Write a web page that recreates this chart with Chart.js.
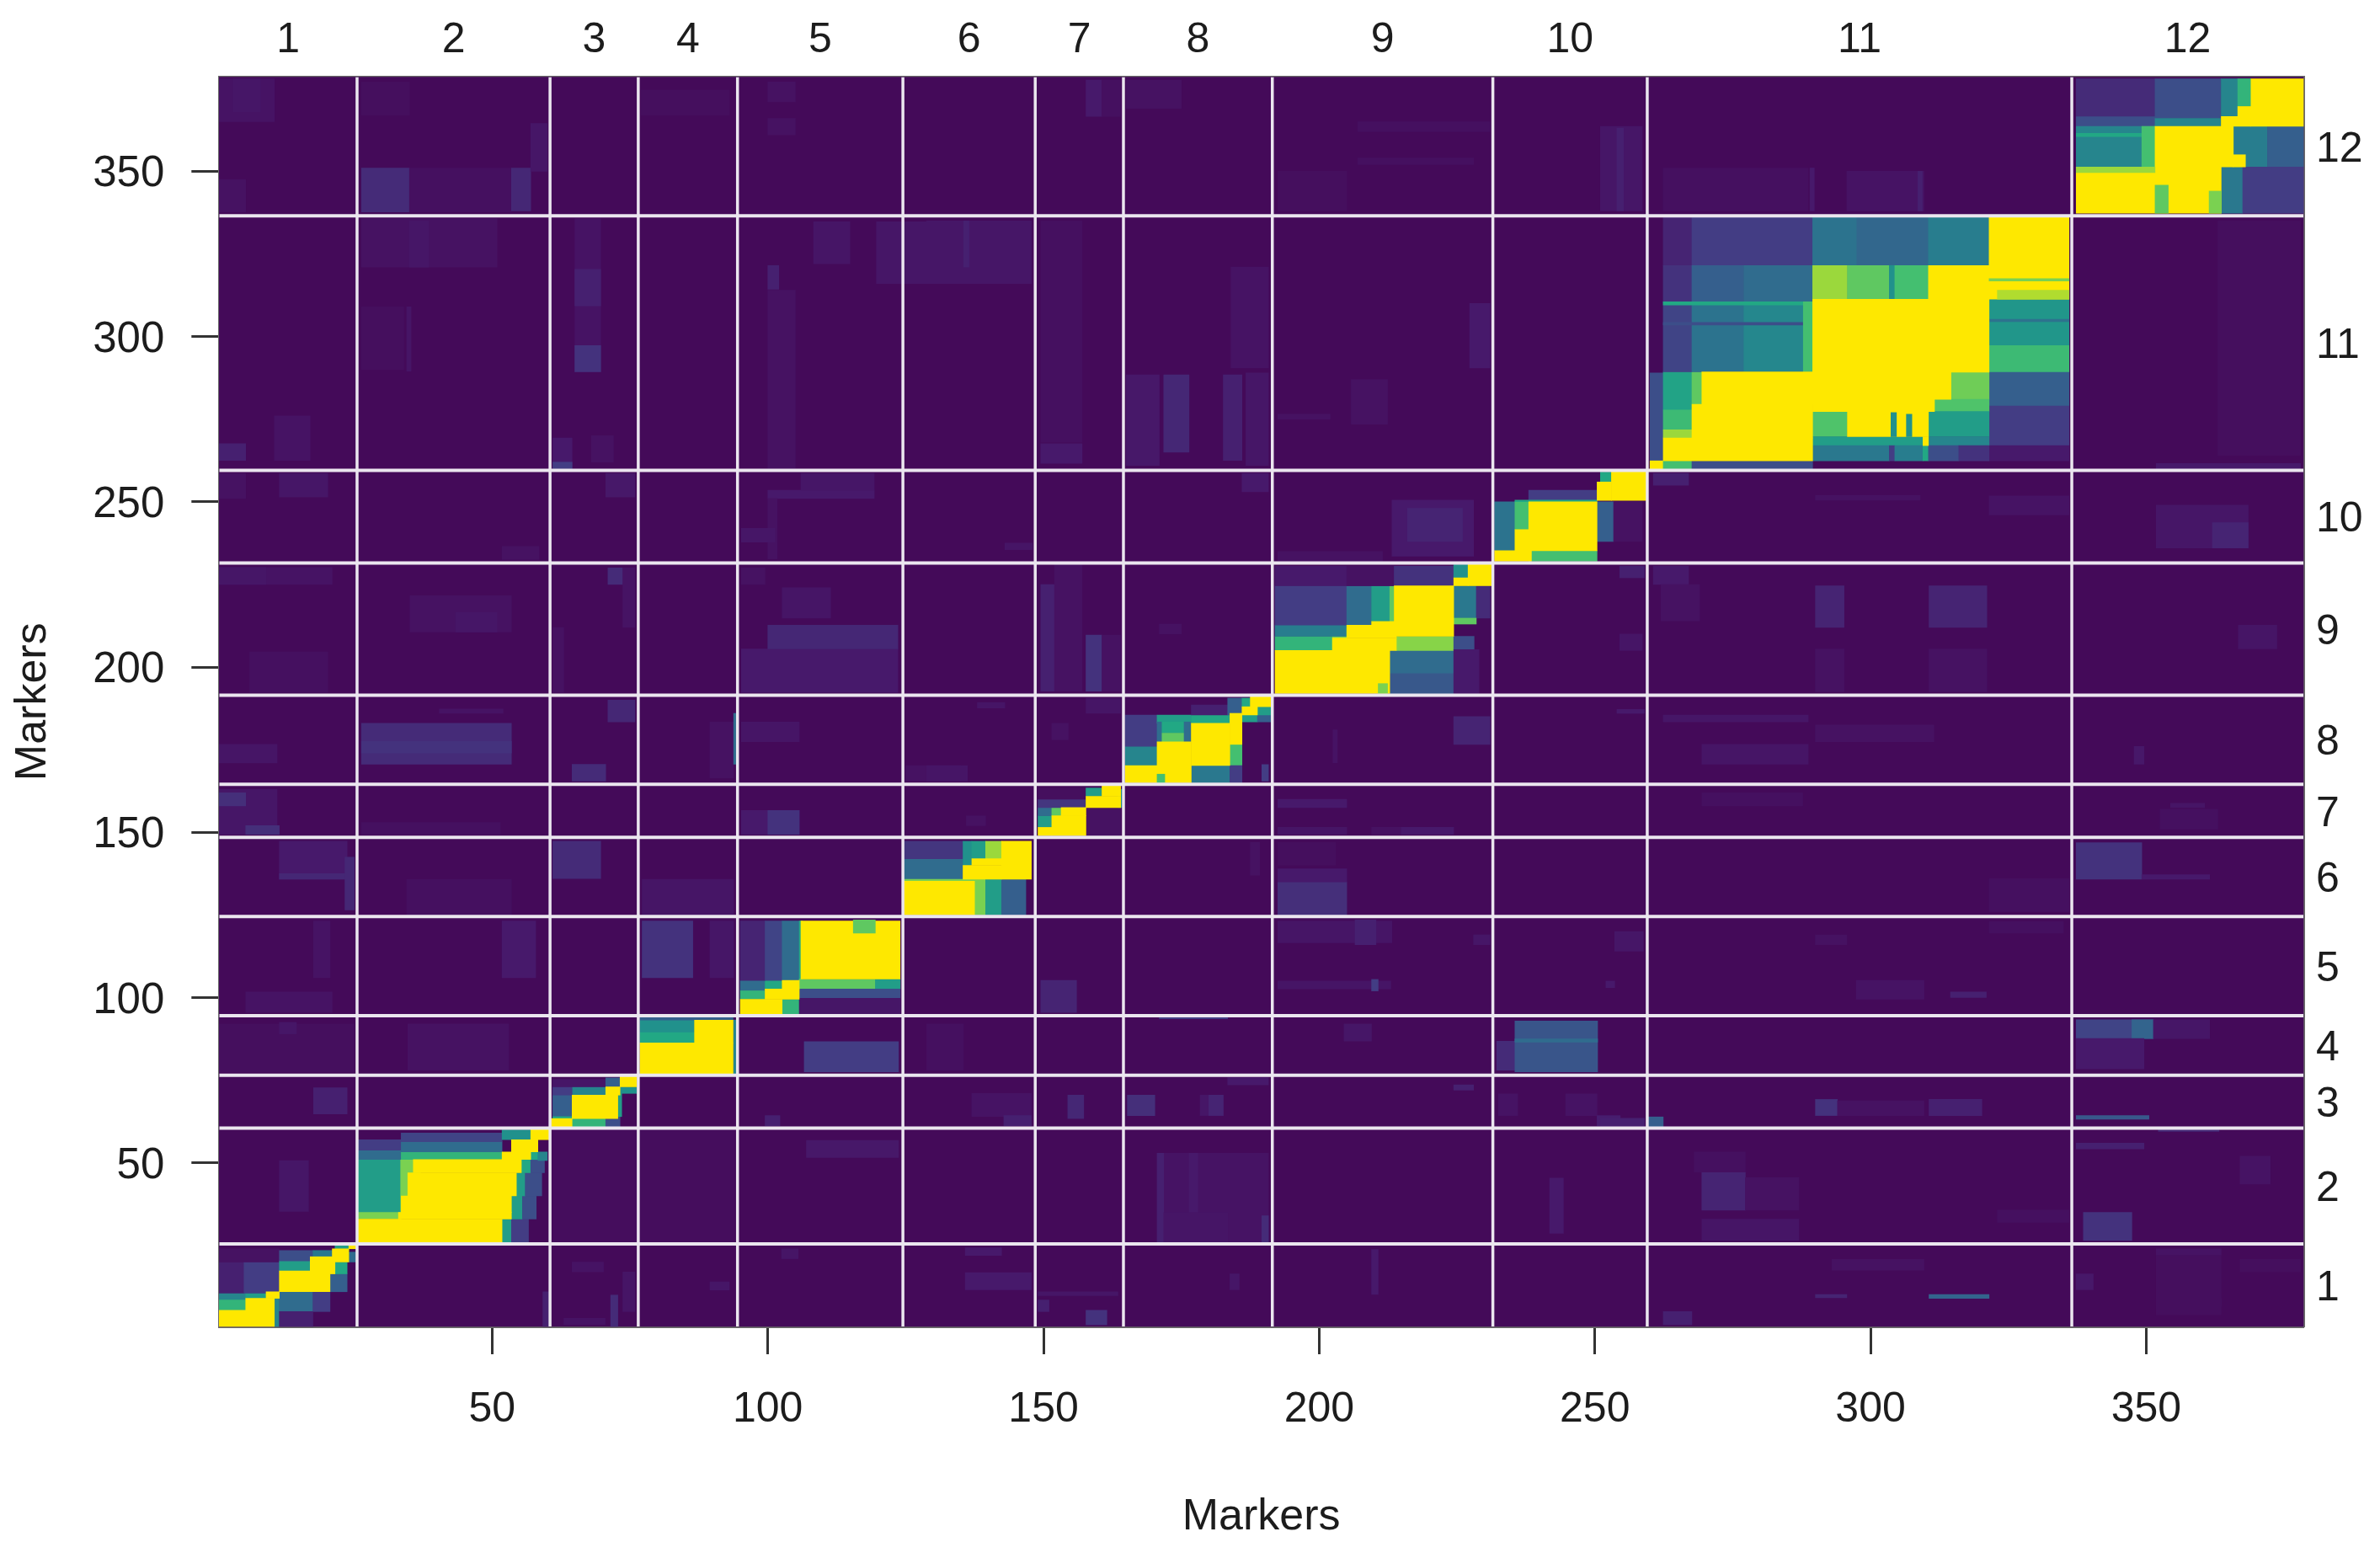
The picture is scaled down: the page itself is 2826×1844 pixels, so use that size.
<!DOCTYPE html>
<html>
<head>
<meta charset="utf-8">
<title>Markers</title>
<script src="https://cdn.jsdelivr.net/npm/chart.js@4/dist/chart.umd.js"></script>
<style>
  html, body { margin: 0; background: #fff; }
  canvas { display: block; filter: blur(0.7px); }
</style>
</head>
<body>
<canvas id="rfChart" width="2826" height="1844"></canvas>
<script>
const axisTicks = [50, 100, 150, 200, 250, 300, 350]
const groupLabels = ['1', '2', '3', '4', '5', '6', '7', '8', '9', '10', '11', '12']
// last marker of each linkage group
const groupEnds = [25, 60, 76, 94, 124, 148, 164, 191, 231, 259, 336, 378]

// every cell: [x from, x to, y from, y to, level 0-1]
const backgroundCells = [[0.5, 378.5, 0.5, 378.5, 0]]

const faintRow1 = [
  [0.5,10.5,365,378,0.06],[3,8,368,378,0.08],[26.3,35,367,377,0.03],[26.3,35,337.7,351,0.15],[35,53.5,337.7,351,0.04],
  [53.5,57,338,351,0.14],[57,60,350,364.5,0.08],[0.5,5.3,337.7,347.5,0.05],[77,93,367,374.6,0.03],[100,105,361,366,0.05],
  [100,105,371,377,0.05],[26.3,50.9,321,335.6,0.05],[35,38.5,321,335,0.08],[65,69.7,289.3,335.6,0.06],[65,69.7,309.3,320.3,0.12],
  [65,69.7,289.3,297.3,0.17],[61,64.5,260,269.3,0.1],[61,64.5,260,262,0.2],[68,72,262,270,0.05],[100,102,314.3,321.5,0.12],
  [100,105,260,314,0.05],[108.3,114.9,322,334.7,0.07],[119.7,135,316,334.7,0.08],[0.5,5.3,262.5,267.6,0.12],[10.5,17,262.5,276,0.06],
  [26.3,34,290,309,0.03],[34.5,35.3,289.5,309,0.07],[128.8,147.8,316,335,0.08],[135.5,136.5,321,335,0.12],[157.7,160.6,366.6,377.6,0.1],
  [160.6,164,366.6,377.6,0.04],[165,175,369,377.6,0.05],[149.5,157,268,335,0.04],[149.5,157,261.6,267.6,0.1],[165,171,261,288.4,0.09],
  [171.8,176.4,265,288.4,0.14],[182.6,186,262.5,288.4,0.12],[186.7,190.8,261,289,0.08],[184,190.8,290.5,321,0.06],[227.3,231,290.5,310,0.1],
  [207,231,362,365,0.04],[207,228,352,354,0.04],[192.5,205,338,350,0.03],[251,258.6,338,363.6,0.08],[254,255.2,338,363,0.12],
  [205.8,212.4,273.5,287,0.05],[192.5,202,275,276.5,0.05],[262.4,288.7,338,351,0.04],[295.7,309.7,338,350,0.06],[308.6,309.4,338,350,0.12],
  [289,289.8,338,351,0.1],[351.8,378,259.7,261.6,0.1],[363,378,264,335,0.03]
]

const faintRow2 = [
  [11.4,20.2,251.4,258.6,0.08],[0.5,5.3,251,258.6,0.05],[70.6,75.9,251.4,258.6,0.09],[100,119.3,251,253.5,0.1],[106,119.3,253.5,258.6,0.08],
  [100,101.7,232.7,251,0.05],[95.2,101.3,237.8,242,0.08],[51.8,58.5,232.5,236.5,0.05],[0.5,21,225,230.1,0.06],[0.5,9,225,230.1,0.08],
  [35.1,53.5,210.6,221.6,0.05],[43.4,50.9,210.6,216.5,0.08],[71,73.7,225,230,0.15],[73.7,75.9,212,230,0.06],[61,63,192.3,212,0.05],
  [95.2,123.6,192.3,205.5,0.1],[100,123.6,205.5,212.7,0.14],[102.6,111.4,214.8,224,0.07],[95.2,99.5,225,230,0.05],[6,20.2,192.3,204.6,0.04],
  [26.3,53.5,170.6,183,0.15],[26.3,53.5,174,177.5,0.17],[40.4,52,186,187.3,0.06],[0.5,11,171,176.6,0.07],[64.5,70.6,165.5,170.6,0.15],
  [71,75.9,183.4,190,0.14],[89.5,93.8,166.4,183.4,0.05],[93.8,94.4,170.6,186,0.35],[95.2,105.7,177.4,183.4,0.07],[125,135,165.5,170.2,0.05],
  [0.5,11,149.4,163,0.08],[0.5,5.3,158,162,0.16],[5.3,11.4,149.4,152,0.16],[95.2,105.7,149.4,156.6,0.1],[100,105.7,149.4,156.6,0.17],
  [26.3,51.5,149.4,153,0.04],[11.4,23.7,135.8,147.3,0.1],[11.4,23.7,135.8,137.5,0.14],[23.3,25,126.5,142.5,0.14],[61,69.7,136,147.3,0.15],
  [77.2,93.8,124.9,135.8,0.07],[34.5,53.5,124.9,135.8,0.04],[213.2,228,233.5,250.5,0.1],[216,226,238,248,0.13],[192.5,211.5,232,235,0.05],
  [186,190.8,253,258.6,0.1],[143,148,235.5,237.5,0.07],[255.4,258.6,228.4,230.5,0.12],[149.5,152,192.7,225,0.12],[152,157,192.7,231,0.05],
  [157.7,160.6,192.7,209.7,0.17],[160.6,164,192.7,209.7,0.05],[171,175,210,213,0.05],[224.4,231,176.6,185,0.13],[138,143,187.6,189.3,0.07],
  [128.8,136.2,165.5,170.2,0.07],[151.5,154.5,178,183,0.05],[157.7,164,186,190.6,0.07],[202.5,203.3,171,181,0.06],[254.6,258.6,186,187,0.08],
  [192.5,205,157.5,160,0.1],[192.5,205,149.4,151.5,0.07],[214.8,224.4,149.4,151.5,0.1],[209.5,214.8,149.4,151.5,0.05],[136,139.5,152,155,0.05],
  [192.5,205,124.9,135,0.16],[192.5,205,135,139,0.1],[192.5,203,140,147,0.03],[187.5,189.2,137,147,0.05]
]

const faintRow2Right = [
  [321.5,336,246,251.8,0.06],[290,309,250.5,252,0.05],[351.8,368.5,236,249,0.08],[362,368.5,236,243.7,0.13],[260.6,267,255,258.6,0.12],
  [260.6,267,225,230.5,0.1],[290,295.2,212,224.6,0.13],[310.6,321.1,212,224.6,0.13],[290,295.2,192.5,205.5,0.05],[310.6,321.1,192.5,205.5,0.05],
  [262,269,214,225,0.05],[366.7,373.7,205.5,212.7,0.07],[254.5,259,227,230.5,0.12],[254.5,258.6,205,210,0.07],[262.4,288.7,183.4,185.5,0.08],
  [269.4,288.7,170.6,176.6,0.07],[290,311.5,177.4,182.5,0.05],[347.8,349.6,170.6,176,0.09],[254,259,186,187.2,0.1],[269.4,287.7,158,162,0.04],
  [354.4,360.6,157.5,158.8,0.07],[352.5,363,151,157,0.04],[337.3,349.2,135.8,146.9,0.17],[349.2,361.5,135.8,137.2,0.1],[321.5,336,126,136,0.04]
]

const faintRow3 = [
  [51.8,57.9,106,123.2,0.1],[17.6,20.6,106,123.2,0.06],[5.3,21,95.5,101.7,0.06],[77.2,86.4,106,123.2,0.17],[89.5,93.8,106,123.2,0.08],
  [106.6,123.7,77.5,86.7,0.2],[0.5,25,77.5,92,0.03],[11.4,14.5,89,92.5,0.08],[34.7,53,78,92,0.05],[17.6,23.7,64.8,72.7,0.12],
  [99.5,102.2,61.2,64.3,0.12],[11.4,16.7,35.3,50.7,0.08],[107,123.7,51.6,56.8,0.09],[88.6,93,56.4,59.5,0.09],[61,94,26,60,0.02],
  [64.5,70.2,17,20,0.06],[73.7,75.9,5,17,0.07],[71.5,72.8,0.5,10,0.15],[63,70.5,1,3,0.06],[59.2,60.4,0.5,11,0.12],[89.5,93,11.5,14,0.08],
  [102.5,105.5,21,24,0.07],[149.5,156,95.5,105.2,0.13],[192.5,213.2,116.6,123.2,0.07],[206.5,210.3,116,123.5,0.12],[192.5,213,102.6,105,0.07],
  [209.5,210.7,102,105.5,0.2],[228,231,116,119,0.08],[171,183.4,93.6,94.2,0.2],[204.5,209.5,86.8,92,0.08],[232.2,235.5,78,86.8,0.15],
  [235.5,250.5,77.5,92.9,0.27],[235.5,250.5,86.5,87.5,0.35],[128.8,135.5,78,92,0.04],[183.4,190.8,73.6,75.8,0.1],[224.4,228,72,73.6,0.12],
  [137,147.8,64,71,0.06],[142.8,147.8,61.2,64.3,0.12],[154.4,157.3,63.4,70.5,0.14],[165.2,170.2,64.3,70.5,0.16],[178.4,182.6,64.3,70.5,0.08],
  [180,182.6,64.3,70.5,0.13],[232.5,236,64.3,70.9,0.06],[244.7,250.4,64.3,70.9,0.06],[250.4,254.6,61.2,64.3,0.11],[171,190.8,26,52.9,0.06],
  [170.6,171.8,26,52.9,0.12],[176.4,178,26,52.9,0.1],[189.6,190.8,26,34,0.15],[171.8,183.4,26,35,0.07],[241.8,244.3,28.7,45.4,0.1],
  [135.8,142.4,22,24.3,0.1],[135.8,147.8,11.6,16.8,0.1],[149,163.5,9.8,11,0.08],[149,151,5,8.5,0.12],[157.7,161.5,1,5.4,0.17],
  [183.8,185.5,11.6,16.4,0.08],[209.5,210.7,10.2,23.8,0.1],[253.6,258.8,114,120,0.08],[252,253.6,103,105,0.1],[290,295.7,116,119,0.05],
  [321.5,335,119.5,123,0.04],[297.4,309.7,99.5,105.2,0.06],[314.5,321,100,101.7,0.12],[337.3,351.3,87.6,93.3,0.22],[347.4,351.3,87.6,93.3,0.32],
  [351.3,361.5,87.6,93.3,0.08],[337.3,349.6,78.4,87.6,0.1],[290,294,64.3,69.2,0.17],[294,309.7,64.3,68.8,0.05],[310.6,320.2,64.3,69.2,0.12],
  [337.3,350.5,63.2,64.3,0.28],[259.7,262.4,60.8,63.9,0.3],[251,259,61,63.5,0.12],[352.2,363.2,59.5,60.3,0.15],[269.4,277.3,35.7,47.2,0.13],
  [277.3,287,35.7,45.5,0.05],[269.4,287,26.5,33,0.07],[268,277.3,47.2,53.3,0.04],[338.6,347.4,26.5,35,0.17],[337.3,349.6,54.2,56,0.12],
  [367,372.5,43.6,52,0.06],[323,336,32,35.7,0.04],[262.4,267.6,1,5,0.12],[310.6,321.5,9,10.2,0.32],[290,295.7,9.2,10.2,0.13],
  [293,309.7,17.5,20.8,0.05],[337.3,340.4,11.6,16.4,0.09],[351.8,363.6,6.7,9,0.1],[351.8,363.6,22,24,0.06],[351.8,363.6,4,22,0.03],[367,378,17,20.8,0.03]
]

const lg1Cells = [
  [0.5,5.3,8.5,10.6,0.45],[0.5,5.3,5.4,8.5,0.65],[5.3,9,9,10.6,0.55],[0.5,5,10.6,20,0.12],[5,11.4,10.6,20,0.2],
  [0.5,11.4,20,24,0.05],[11.4,17.5,17.3,20.3,0.55],[11.4,17.5,20.3,23.5,0.25],[17.5,21.5,21.6,23.5,0.4],[21.5,24,23.5,25.2,0.55],
  [10.5,11.4,0.5,10,0.45],[11.4,17.5,5,11,0.35],[17.5,20.6,5,11,0.2],[11.4,17.5,0.5,5,0.12],[20.6,23.7,11,16.4,0.3],
  [21.5,23.7,16.4,20,0.6],[23.7,25.5,20,23,0.35],[0.5,10.5,0.5,5.4,1],[5.3,10.5,5.4,9,1],[9,11.4,9,11,1],
  [11.4,20.6,11,17.3,1],[17,21.5,16.4,21.6,1],[21,24,20,24,1],[24,25.5,24,25.5,1]
]

const lg2Cells = [
  [25.6,33.5,35,51,0.55],[25.6,33.5,33,35,0.8],[33.4,37,35,51,0.8],[25.6,33.5,51,53.8,0.35],[25.6,33.5,53.8,57,0.2],
  [33.5,51.8,51,53.3,0.65],[33.5,51.8,53.3,56.4,0.35],[33.5,51.8,56.4,59,0.22],[51.8,57,57,60,0.5],[51.8,53.5,25.5,33,0.55],
  [53.5,56.6,25.5,33,0.2],[53.5,55.5,33,40,0.55],[55.5,58,33,40,0.25],[54.4,56,40,47,0.55],[56,59,40,47,0.25],
  [55.3,57,47,51,0.6],[57,59.5,47,51,0.25],[57,58.3,51,53.3,0.6],[58.3,60,50.7,53.3,0.45],[25.6,51.8,25.5,33,1],
  [33,53.5,33,35,1],[33.5,53.5,35,40,1],[34.7,54.4,40,47,1],[35.7,55.3,47,51,1],[51.8,57,51,53.3,1],
  [53.5,58.3,53.3,57,1],[57,60.5,57,60.5,1]
]

const lg3Cells = [
  [61,64.5,64,70.5,0.3],[64.5,70.6,70.5,73,0.45],[61,64.5,70.5,73,0.2],[61,70.6,73,75.3,0.08],[70.6,73.2,73,75.7,0.3],
  [64.5,70.6,60.8,63.4,0.65],[70.6,73.2,60.8,64,0.25],[72.8,73.5,64,71,0.55],[73.2,76.2,71,73,0.5],[61,64.5,63.4,64,0.6],
  [60.7,64.5,60.8,63.4,1],[64.5,72.8,63.4,70.5,1],[70.6,73.2,70.5,73,1],[73.2,76.2,73,76.2,1]
]

const lg4Cells = [
  [76.8,86.7,89.4,93.2,0.5],[76.8,86.7,86.3,89.4,0.6],[76.8,93.7,93.2,94.3,0.3],[93.7,94.4,77,93.2,0.45],
  [76.8,93.7,76.9,86.3,1],[86.7,93.7,86.3,93.2,1]
]

const lg5Cells = [
  [95,99.5,99.5,102.2,0.65],[95,99.5,102.2,105.2,0.35],[99.5,102.6,102.6,105.2,0.6],[95,99.5,105.2,123.2,0.13],[99.5,102.6,105.2,123.2,0.22],
  [102.6,105.7,105.2,123.2,0.35],[105.7,106.3,105.2,123.2,0.6],[102.6,105.7,95,99.5,0.65],[105.7,124,102.6,105.6,0.75],[119.5,124,102.6,105.6,0.55],
  [105.7,124,99.8,102.6,0.25],[105.7,124,95,99.8,0.08],[95,102.6,95,99.5,1],[99.5,105.7,99.5,102.6,1],[102.6,105.7,102.6,105.2,1],
  [106,124,105.6,123.2,1],[115.5,119.5,119.5,123.5,0.75]
]

const lg6Cells = [
  [124.7,135.4,135.8,142,0.35],[124.7,135.4,142,147.3,0.18],[135.4,137,140,147.3,0.5],[137,139.5,142,147.3,0.55],[139.5,142.4,142,147.3,0.85],
  [137.5,139.5,125,135.8,0.8],[139.5,142.4,125,135.8,0.55],[142.4,146.8,125,135.8,0.3],[124.7,137.5,135,135.8,0.8],[124.7,137.5,125,135.2,1],
  [135.4,142.4,135.8,140,1],[137,142.4,140,142,1],[142.4,147.8,135.8,147.3,1]
]

const lg7Cells = [
  [149,151.5,151.5,155,0.55],[149,151.5,155,157.5,0.35],[151.5,153.2,155,157.5,0.75],[149,157.7,157.5,160,0.18],[149,157.7,160,163.4,0.03],
  [157.7,160.6,160.9,163.4,0.55],[157.7,164,149,157.5,0.05],[163.5,164.2,157.5,163,0.5],[149,151.5,149,151.5,1],[151.5,157.7,149,155,1],
  [153.2,157.7,155,157.5,1],[157.7,164,157.5,160.9,1],[160.6,164,160.9,164,1]
]

const lg8Cells = [
  [164.8,170.6,170.2,176,0.45],[164.8,170.6,176,185.5,0.2],[170.6,176.8,183,185.5,0.55],[171.4,175.5,180,183.4,0.6],[171.4,175.5,177.4,180,0.75],
  [175.5,176.8,177.4,183.4,0.35],[170.6,171.4,177.4,183.4,0.35],[176.8,183.8,183,185.5,0.6],[176.8,183.4,185.5,188.5,0.12],[183.4,186,185.5,190.6,0.3],
  [186,187.5,188,190.6,0.6],[176.8,183.8,165,170.2,0.4],[183.8,186,170.2,176.6,0.7],[183.8,186,165,170.2,0.2],[186,188.8,183.4,185.5,0.55],
  [188.8,191.3,183.4,185.5,0.3],[188.8,191.3,185.5,188,0.55],[189.6,190.8,165.5,170.5,0.2],[164.8,170.6,165,170.2,1],[170.6,176.8,165,177.4,1],[170.6,172,165,167.6,0.7],
  [176.8,183.8,170.2,183,1],[183.8,186,176.6,186,1],[186,188.8,185.5,188,1],[187.5,191.3,188,191.3,1]
]

const lg9Cells = [
  [192,202.4,205,209.3,0.65],[202.4,205,205,209.3,0.8],[192,205,209.3,212.7,0.42],[205,209.5,209.3,211.7,0.65],[192,205,212.7,224.6,0.2],
  [205,209.5,211.7,224.6,0.35],[209.5,212.8,213.8,224.6,0.55],[212.8,213.6,213.8,224.6,0.75],[192,213.6,224.6,230.5,0.1],[205,213.6,224.6,230.5,0.05],
  [213.6,224.4,224.6,230.5,0.17],[212.8,224.4,192,205,0.35],[212.8,224.4,192,198,0.28],[214,224.4,205,209.3,0.82],[224.4,228.5,214.8,224.6,0.4],
  [228.5,231,214.8,224.6,0.15],[224.4,228.5,213,214.8,0.75],[224.4,228.1,205.3,209.3,0.25],[224.4,229,192,205.3,0.1],[224.4,227,227,231,0.5],
  [192,212.8,192,205,1],[202.4,214,205,208.8,1],[205,214,208.8,212.7,1],[209.5,214,212.7,213.8,1],[213.6,224.4,209.3,224.6,1],
  [227,231.2,224.6,231.2,1],[224.4,227,224.6,227,1],[210.7,212.4,192,195,0.8]
]

const lg10Cells = [
  [231.8,235.5,235.2,250,0.38],[235.5,238,241.6,250,0.7],[238,250.4,250.5,253.5,0.2],[235.5,250.4,250,250.5,0.6],[238,250.4,232,235.2,0.7],[250.4,253.4,238,250,0.3],
  [253.4,258.6,238,250,0.05],[251,253,256,259,0.6],[231.8,238.5,232,235.2,1],[235.5,238.5,235.2,241.6,1],[238,250.4,235.2,250,1],
  [250.4,253,250.4,256,1],[253,259.5,250.4,259.5,1]
]

const lg11Cells = [
  [260,262.4,262.5,289,0.25],[262.4,267.6,277.8,289.3,0.58],[267.6,269.4,279.5,289.3,0.75],[262.4,267.6,271.8,277.8,0.68],[262.4,267.6,269.3,271.8,0.85],
  [262.4,267.6,321.5,336,0.13],[267.6,289.5,321.5,336,0.2],[262.4,267.6,310.5,321.5,0.17],[267.6,277,310.5,321.5,0.3],[277,289.5,310.5,321.5,0.35],
  [262.4,267.6,289.3,310.5,0.22],[267.6,277,289.3,310.5,0.38],[277,289.5,289.3,310.5,0.46],[262.4,289.5,309.5,310.5,0.6],[262.4,289.5,303.5,304.3,0.25],
  [287.8,289.7,289.3,310.5,0.7],[260,262.4,259.8,262.4,1],[262.4,267.6,259.9,262.4,0.7],[267.6,289.5,259.9,262.4,0.25],[289.5,297.5,321.5,336,0.38],
  [297.5,310.5,321.5,336,0.33],[310.5,321.5,321.5,336,0.42],[289.5,295.8,311.3,321.5,0.85],[295.8,303.4,311.3,321.5,0.75],[303.4,304.4,311.3,321.5,0.5],
  [304.4,310.5,311.3,321.5,0.7],[321.5,336,297.3,311.3,0.52],[321.5,336,289.2,297.3,0.68],[321.5,336,304.5,305.2,0.38],[321.5,336,279,289.2,0.3],
  [321.5,336,267,279,0.2],[321.5,336,262.4,267,0.1],[314.6,321.5,281,289.2,0.78],[311.6,321.5,277.3,281,0.72],[289.5,295.8,269.7,277.3,0.72],
  [310.5,321.5,269.7,277.3,0.55],[289.5,309.5,267,269.7,0.55],[310.5,321.5,267,269.7,0.45],[289.5,303.4,262.4,267,0.4],[303.4,304.4,262.4,267,0.2],
  [304.4,309.5,262.4,267,0.42],[309.5,310.5,262.4,267,0.6],[310.5,316,262.4,267,0.25],[316,321.5,262.4,267,0.17],[262.4,289.5,262.4,269.3,1],
  [267.6,289.5,269.3,279.5,1],[269.4,289.7,279.5,289.3,1],[289.5,321.5,289.2,311.3,1],[310.5,321.5,311.3,321.5,1],[289.5,314.6,281,289.2,1],
  [289.5,311.6,277.3,281,1],[295.8,310.5,269.7,277.3,1],[303.7,304.7,269.7,277,0.5],[306.5,307.5,269.7,276.5,0.5],[309.5,310.5,267,269.7,1],
  [321.5,336,311.3,336,1],[321.5,336,316.8,317.5,0.8],[323,336,311.3,314,0.88]
]

const lg12Cells = [
  [337.3,351.6,366,378,0.15],[337.3,351.6,363.6,366.5,0.25],[351.6,363.6,366,378,0.25],[351.6,363.6,363.6,366,0.45],[363.6,366.6,366.6,378,0.45],
  [366.6,369,369.6,378,0.65],[337.3,349.2,351.3,363.6,0.45],[337.3,349.2,360.5,361.5,0.6],[349.2,351.6,351.3,363.6,0.7],[365.8,372,351.3,363.6,0.42],
  [372,378.5,351.3,363.6,0.3],[363.6,367.5,337.3,351.3,0.4],[367.5,378.5,337.3,351.3,0.2],[369,378.5,363.6,378,1],[363.6,369,363.6,366.6,1],
  [366.6,369,366.6,369.6,1],[351.6,365.8,351.3,363.6,1],[365.8,368,351.3,355,1],[337.3,363.6,337.3,351.3,1],[337.3,351.6,349.6,351.3,0.85],
  [351.6,354,337.3,345.8,0.75],[361.4,363.6,337.3,344,0.8]
]

const cellLists = [backgroundCells, faintRow1, faintRow2, faintRow2Right, faintRow3, lg1Cells, lg2Cells, lg3Cells, lg4Cells, lg5Cells, lg6Cells, lg7Cells, lg8Cells, lg9Cells, lg10Cells, lg11Cells, lg12Cells]

const colorLevels = [0, 0.1, 0.2, 0.3, 0.4, 0.5, 0.6, 0.7, 0.8, 0.9, 1]
const colorStops = ['#440a59', '#47196b', '#433d84', '#355f8d', '#2a788e', '#21918c', '#22a884', '#44bf70', '#7ad151', '#bddf26', '#fee800']

function levelColor(v) {
  let i = 0
  while (i < colorLevels.length - 2 && v > colorLevels[i + 1]) i++
  const t = (v - colorLevels[i]) / (colorLevels[i + 1] - colorLevels[i])
  const parts = [1, 3, 5].map(k => {
    const a = parseInt(colorStops[i].substr(k, 2), 16)
    const b = parseInt(colorStops[i + 1].substr(k, 2), 16)
    return Math.round(a + (b - a) * t)
  })
  return `rgb(${parts.join(',')})`
}

// small controller so each rectangle is a real chart element placed by the scales
class HeatController extends Chart.DatasetController {
  update() {
    const meta = this._cachedMeta
    this.updateElements(meta.data, 0, meta.data.length)
  }
  updateElements(elements, start, count) {
    const { xScale, yScale } = this._cachedMeta
    const cells = this.getDataset().data
    for (let i = start; i < start + count; i++) {
      const c = cells[i]
      const left = xScale.getPixelForValue(c.x0)
      const right = xScale.getPixelForValue(c.x1)
      const top = yScale.getPixelForValue(c.y1)
      const bottom = yScale.getPixelForValue(c.y0)
      Object.assign(elements[i], {
        x: (left + right) / 2,
        y: top,
        base: bottom,
        width: right - left,
        height: bottom - top,
        horizontal: false,
        inflateAmount: 0.3,
        borderSkipped: {},
        enableBorderRadius: false,
        options: { backgroundColor: levelColor(c.v), borderColor: levelColor(c.v), borderWidth: 0, borderRadius: 0 }
      })
    }
  }
}
HeatController.id = 'heat'
HeatController.defaults = { dataElementType: 'bar' }
Chart.register(HeatController)

// R centres its side labels a little lower than canvas middle baseline
const labelNudge = {
  id: 'labelNudge',
  beforeDraw(chart) {
    for (const id of ['y', 'y2']) {
      chart.scales[id].getLabelItems().forEach(item => { item.options.translation[1] += 4 })
    }
  }
}

const heatData = cellLists.flat().map(([x0, x1, y0, y1, v]) => ({ x: (x0 + x1) / 2, y: (y0 + y1) / 2, x0, x1, y0, y1, v }))

const inner = groupEnds.slice(0, -1).map(e => e + 0.5)
const separatorStyle = { type: 'scatter', showLine: true, pointRadius: 0, borderColor: '#ebe6ef', order: 0, xAxisID: 'x', yAxisID: 'y' }
const separators = [
  ...inner.map(p => ({ ...separatorStyle, borderWidth: 3.5, data: [{ x: p, y: 0.5 }, { x: p, y: 378.5 }] })),
  ...inner.map(p => ({ ...separatorStyle, borderWidth: 4, data: [{ x: 0.5, y: p }, { x: 378.5, y: p }] }))
]

const starts = [0, ...groupEnds.slice(0, -1)]
const groupMids = groupEnds.map((e, i) => (starts[i] + 1 + e) / 2)

const font = { family: '"Liberation Sans", Arial, sans-serif', size: 50 }
const textColor = '#1c1c1c'
const edge = { display: true, color: '#6a6a6a', width: 3 }

function fixed(ticks, size) {
  return {
    afterBuildTicks: scale => { scale.ticks = ticks.map(value => ({ value })) },
    afterFit: scale => {
      if (scale.isHorizontal()) scale.height = size
      else scale.width = size
    }
  }
}

new Chart(document.getElementById('rfChart'), {
  type: 'scatter',
  data: {
    datasets: [...separators, { type: 'heat', label: 'Markers', data: heatData, order: 1, xAxisID: 'x', yAxisID: 'y' }]
  },
  plugins: [labelNudge],
  options: {
    responsive: false,
    animation: false,
    events: [],
    layout: { padding: 0 },
    plugins: { legend: { display: false }, tooltip: { enabled: false } },
    scales: {
      x: {
        type: 'linear', position: 'bottom', min: 0.5, max: 378.5,
        ...fixed(axisTicks, 269),
        border: edge,
        grid: { drawOnChartArea: false, tickLength: 33, tickColor: '#333', tickWidth: 3 },
        ticks: { font, color: textColor, padding: 36, maxRotation: 0, autoSkip: false, callback: v => String(v) },
        title: { display: true, text: 'Markers', font: { ...font, size: 52 }, color: textColor, padding: { top: 0, bottom: 11 } }
      },
      y: {
        type: 'linear', position: 'left', min: 0.5, max: 378.5,
        ...fixed(axisTicks, 260.3),
        border: edge,
        grid: { drawOnChartArea: false, tickLength: 33, tickColor: '#333', tickWidth: 3 },
        ticks: { font: { ...font, size: 51 }, color: textColor, padding: 32, autoSkip: false, callback: v => String(v) },
        title: { display: true, text: 'Markers', font: { ...font, size: 52 }, color: textColor, padding: { top: 8, bottom: 0 } }
      },
      x2: {
        type: 'linear', position: 'top', min: 0.5, max: 378.5,
        ...fixed(groupMids, 91.5),
        border: edge,
        grid: { drawOnChartArea: false, drawTicks: false },
        ticks: { font, color: textColor, padding: 13, maxRotation: 0, autoSkip: false, callback: (v, i) => groupLabels[i] }
      },
      y2: {
        type: 'linear', position: 'right', min: 0.5, max: 378.5,
        ...fixed(groupMids, 91),
        border: edge,
        grid: { drawOnChartArea: false, drawTicks: false },
        ticks: { font, color: textColor, padding: 15, autoSkip: false, callback: (v, i) => groupLabels[i] }
      }
    }
  }
})
</script>
</body>
</html>
